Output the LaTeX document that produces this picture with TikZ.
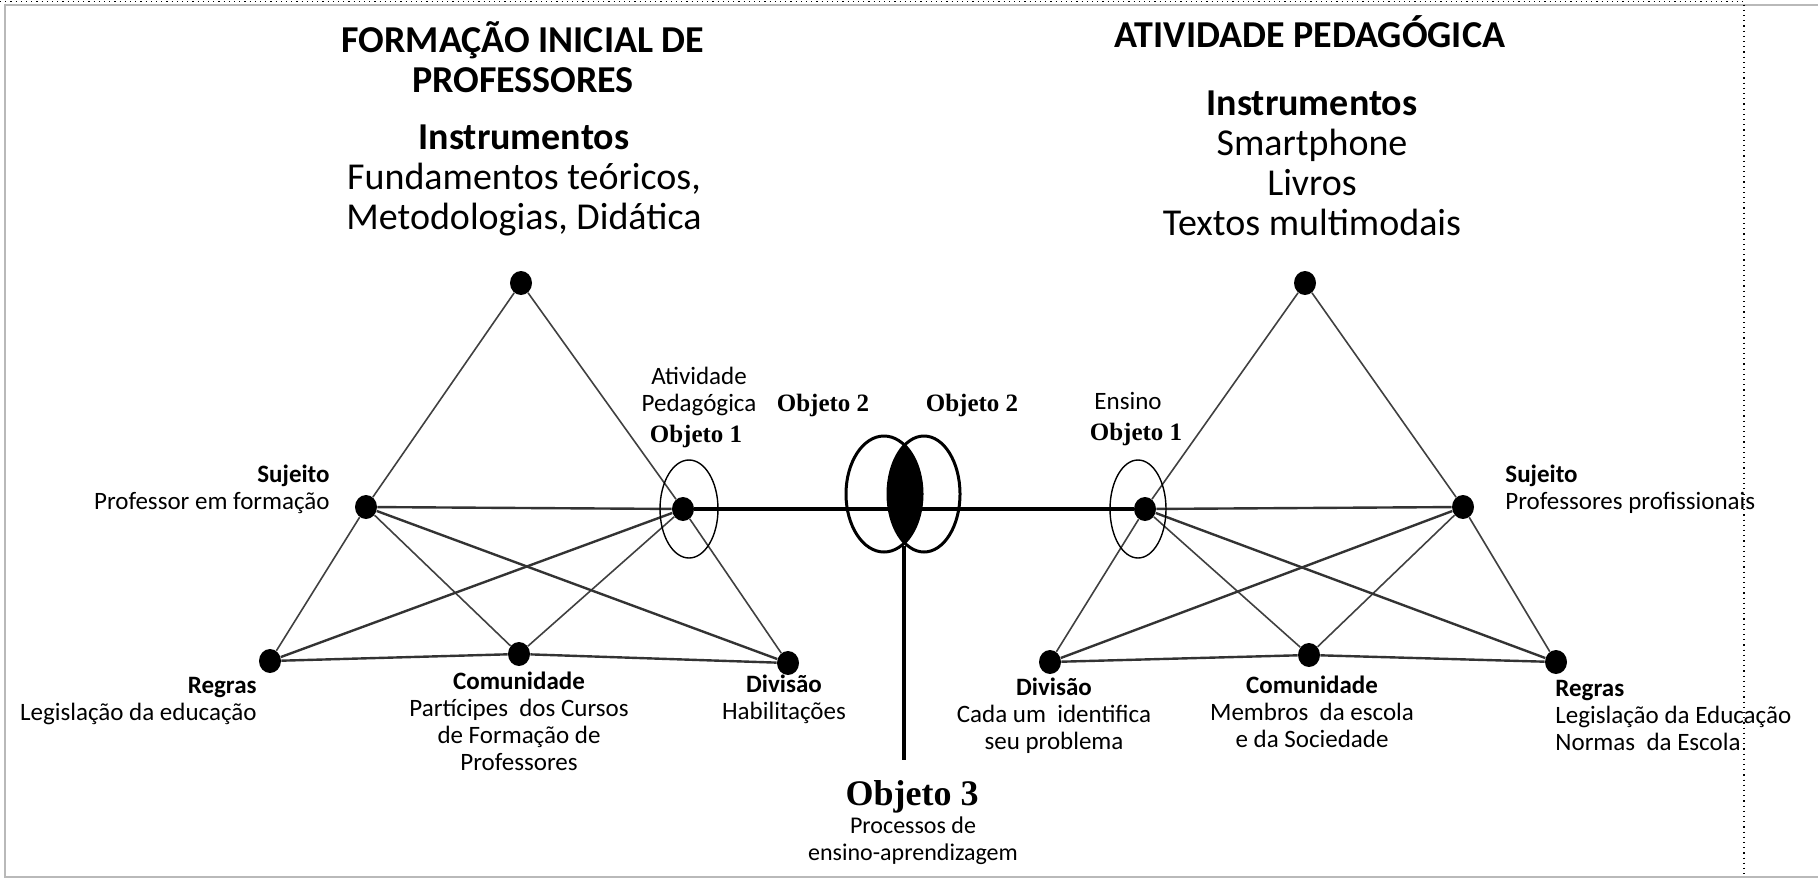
\documentclass[tikz,border=0pt]{standalone}
\usepackage{fontspec}
\setmainfont{Carlito}
\newfontfamily\objfont{Liberation Serif}
\usetikzlibrary{positioning, shapes.geometric}
\tikzset{
    % Vertices
    vdot/.style={ellipse, fill=black, inner sep=0pt, minimum width=11pt, minimum height=12pt},
    % Lines
    triside/.style={draw=black!75, line width=0.8pt},
    xlink/.style={draw=black!80, line width=1.2pt},
    objline/.style={draw=black, line width=1.6pt},
    ring/.style={draw=black, line width=0.7pt},
    bigring/.style={draw=black, line width=1.5pt},
    % Texts
    ttl/.style={font=\fontsize{19}{20}\selectfont\bfseries, align=center, inner sep=0pt},
    instr/.style={font=\fontsize{19}{20}\selectfont, align=center, inner sep=0pt},
    lbl/.style={font=\fontsize{12.5}{13.5}\selectfont, align=#1, inner sep=0pt},
    lbl/.default=center,
    objlbl/.style={font=\objfont\bfseries\fontsize{#1}{#1}\selectfont, inner sep=0pt},
    objlbl/.default=12.5,
    % Frame
    cellline/.style={draw=gray!55, line width=1pt},
}
\begin{document}
\begin{tikzpicture}[x=0.5pt, y=-0.5pt]
\useasboundingbox (0,0) rectangle (1818,878);

% Frame
\draw[cellline] (1818,5) -- (5,5) -- (5,877) -- (1818,877);
\draw[dotted, line width=0.6pt] (0,1.5) -- (1744,1.5) -- (1744,878);

% Titles
\node[ttl] (titleL) at (523,57) {FORMAÇÃO INICIAL DE\\PROFESSORES};
\node[ttl] (titleR) at (1310,32) {ATIVIDADE PEDAGÓGICA};
\node[instr] (instrL) at (524,180) {\textbf{Instrumentos}\\Fundamentos teóricos,\\Metodologias, Didática};
\node[instr] (instrR) at (1312,163) {\textbf{Instrumentos}\\Smartphone\\Livros\\Textos multimodais};

% Left triangle
\node[vdot] (apexL) at (521,283) {};
\node[vdot] (sujL) at (366,507) {};
\node[vdot] (objL) at (683,509) {};
\node[vdot] (regL) at (270,661) {};
\node[vdot] (comL) at (519,654) {};
\node[vdot] (divL) at (788,663) {};

% Right triangle
\node[vdot] (apexR) at (1305,283) {};
\node[vdot] (sujR) at (1463,507) {};
\node[vdot] (objR) at (1145,509) {};
\node[vdot] (divR) at (1050,662) {};
\node[vdot] (comR) at (1309,655) {};
\node[vdot] (regR) at (1556,662) {};

% Sides
\draw[triside] (apexL) -- (sujL) -- (regL);
\draw[triside] (apexL) -- (objL) -- (divL);
\draw[triside] (sujL) -- (comL);
\draw[triside] (objL) -- (comL);
\draw[xlink] (sujL) -- (objL);
\draw[xlink] (sujL) -- (divL);
\draw[xlink] (objL) -- (regL);
\draw[xlink] (regL) -- (comL) -- (divL);

\draw[triside] (apexR) -- (objR) -- (divR);
\draw[triside] (apexR) -- (sujR) -- (regR);
\draw[triside] (objR) -- (comR);
\draw[triside] (sujR) -- (comR);
\draw[xlink] (objR) -- (sujR);
\draw[xlink] (objR) -- (regR);
\draw[xlink] (sujR) -- (divR);
\draw[xlink] (divR) -- (comR) -- (regR);

% Objects
\draw[objline] (objL) -- (objR);
\draw[ring] ([xshift=3pt]objL.center) ellipse [x radius=29, y radius=49];
\draw[ring] ([xshift=-3.5pt]objR.center) ellipse [x radius=28, y radius=49];

\begin{scope}
  \clip (884,494) ellipse [x radius=38, y radius=58];
  \fill (924,494) ellipse [x radius=36, y radius=58];
\end{scope}
\draw[bigring] (884,494) ellipse [x radius=38, y radius=58];
\draw[bigring] (924,494) ellipse [x radius=36, y radius=58];

\coordinate (lensbot) at (904,546);
\coordinate (obj3top) at (904,760);
\draw[objline] (lensbot) -- (obj3top);

% Labels left
\node[lbl=right, anchor=east] (sujLlbl) at (330,489) {\textbf{Sujeito}\\Professor em formação};
\node[lbl=right, anchor=east] (regLlbl) at (257,701) {\textbf{Regras}\\Legislação da educação};
\node[lbl] (comLlbl) at (519,721) {\textbf{Comunidade}\\Partícipes\ \ dos Cursos\\de Formação de\\Professores};
\node[lbl] (divLlbl) at (784,699) {\textbf{Divisão}\\Habilitações};
\node[lbl] (ativlbl) at (699,391) {Atividade\\Pedagógica};
\node[objlbl] (obj1L) at (696,436) {Objeto 1};
\node[objlbl] (obj2L) at (823,405) {Objeto 2};

% Labels right
\node[objlbl] (obj2R) at (972,405) {Objeto 2};
\node[lbl] (ensinolbl) at (1128,401) {Ensino};
\node[objlbl] (obj1R) at (1136,434) {Objeto 1};
\node[lbl=left, anchor=west] (sujRlbl) at (1505,489) {\textbf{Sujeito}\\Professores profissionais};
\node[lbl] (divRlbl) at (1054,716) {\textbf{Divisão}\\Cada um\ \ identifica\\seu problema};
\node[lbl] (comRlbl) at (1312,712) {\textbf{Comunidade}\\Membros\ \ da escola\\e da Sociedade};
\node[lbl=left, anchor=west] (regRlbl) at (1555,715) {\textbf{Regras}\\Legislação da Educação\\Normas\ \ da Escola};

% Objeto 3
\node[objlbl=18] (obj3) at (912,797) {Objeto 3};
\node[font=\fontsize{12}{13.5}\selectfont, align=center, inner sep=0pt] (obj3lbl) at (913,841) {Processos de\\ensino-aprendizagem};

\end{tikzpicture}
\end{document}
